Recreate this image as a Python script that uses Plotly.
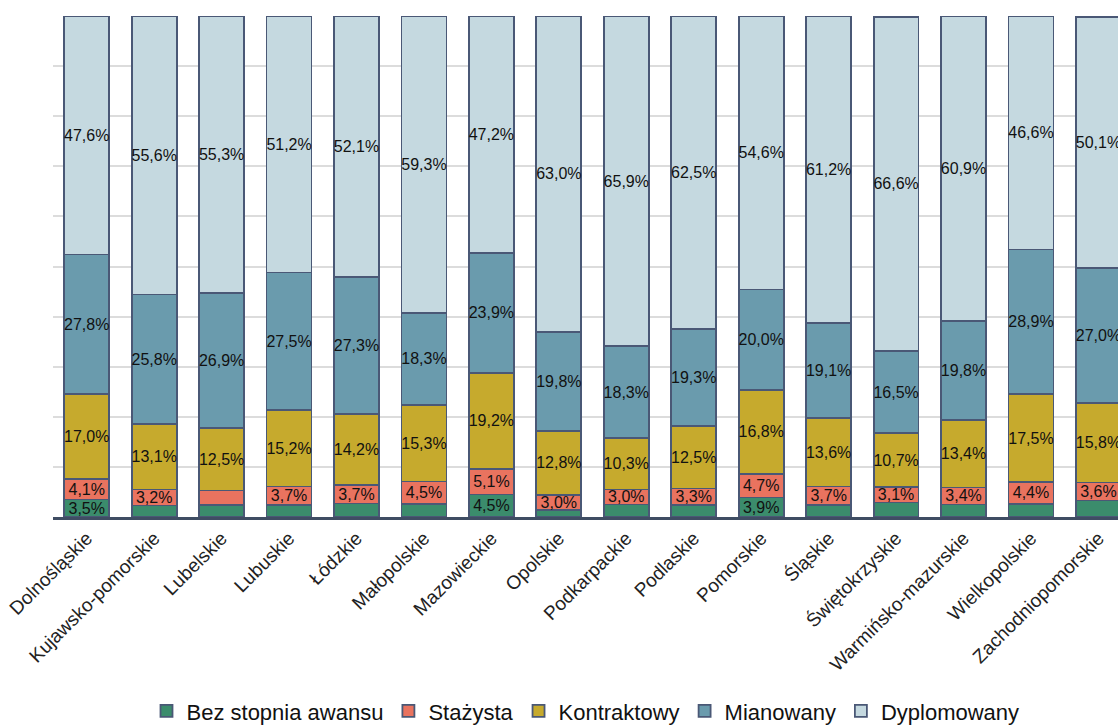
import plotly.graph_objects as go

regions = ["Dolnośląskie", "Kujawsko-pomorskie", "Lubelskie", "Lubuskie", "Łódzkie",
           "Małopolskie", "Mazowieckie", "Opolskie", "Podkarpackie", "Podlaskie",
           "Pomorskie", "Śląskie", "Świętokrzyskie", "Warmińsko-mazurskie",
           "Wielkopolskie", "Zachodniopomorskie"]

bez = [3.5, 2.3, 2.4, 2.4, 2.7, 2.6, 4.5, 1.4, 2.5, 2.4, 3.9, 2.4, 2.9, 2.5, 2.6, 3.3]
stazysta = [4.1, 3.2, 2.9, 3.7, 3.7, 4.5, 5.1, 3.0, 3.0, 3.3, 4.7, 3.7, 3.1, 3.4, 4.4, 3.6]
kontraktowy = [17.0, 13.1, 12.5, 15.2, 14.2, 15.3, 19.2, 12.8, 10.3, 12.5, 16.8, 13.6, 10.7, 13.4, 17.5, 15.8]
mianowany = [27.8, 25.8, 26.9, 27.5, 27.3, 18.3, 23.9, 19.8, 18.3, 19.3, 20.0, 19.1, 16.5, 19.8, 28.9, 27.0]
dyplomowany = [47.6, 55.6, 55.3, 51.2, 52.1, 59.3, 47.2, 63.0, 65.9, 62.5, 54.6, 61.2, 66.6, 60.9, 46.6, 50.1]

# which segment values carry a visible label in the original
bez_shown = [True, False, False, False, False, False, True, False, False, False, True, False, False, False, False, False]
staz_shown = [True, True, False, True, True, True, True, True, True, True, True, True, True, True, True, True]

series = [
    ("Bez stopnia awansu", bez, "#3b8c6c", bez_shown),
    ("Stażysta", stazysta, "#e9735f", staz_shown),
    ("Kontraktowy", kontraktowy, "#c6aa2d", None),
    ("Mianowany", mianowany, "#6a9bad", None),
    ("Dyplomowany", dyplomowany, "#c5d9e0", None),
]

REG = "Liberation Sans, Arial, sans-serif"

def fmt(v):
    return f"{v:.1f}%".replace(".", ",")

fig = go.Figure()
for name, vals, color, shown in series:
    texts = [fmt(v) if (shown is None or shown[i]) else "" for i, v in enumerate(vals)]
    fig.add_trace(go.Bar(
        name=name, x=regions, y=vals, text=texts,
        textposition="inside", insidetextanchor="middle", textangle=0,
        textfont=dict(family=REG, size=16, color="#111111"),
        marker=dict(color=color, line=dict(color="#4a5876", width=1.8)),
        hoverinfo="x+y+name",
    ))

fig.update_layout(
    width=1118, height=725,
    barmode="stack", bargap=0.333,
    plot_bgcolor="white", paper_bgcolor="white",
    margin=dict(l=53, r=0, t=15.5, b=207.5, autoexpand=False),
    font=dict(family=REG, color="#222222"),
    uniformtext=dict(minsize=16, mode="show"),
    showlegend=True,
    legend=dict(orientation="h", x=0.5, xanchor="center", y=-0.3875, yanchor="middle",
                traceorder="normal", font=dict(family=REG, size=22, color="#111111"),
                itemwidth=30),
    xaxis=dict(range=[-0.5, 15.29], tickangle=-45, tickfont=dict(family=REG, size=19, color="#222222"),
               showline=True, linecolor="#3f4d63", linewidth=2.5, ticks="", showgrid=False,
               automargin=False),
    yaxis=dict(range=[0, 100], dtick=10, showticklabels=False, showgrid=True,
               gridcolor="#dcdcdc", gridwidth=1.5, zeroline=False, fixedrange=True,
               automargin=False),
)

fig.write_html("out.html", config={"displayModeBar": False},
               post_script="document.body.style.margin='0';document.body.style.overflow='hidden';")
